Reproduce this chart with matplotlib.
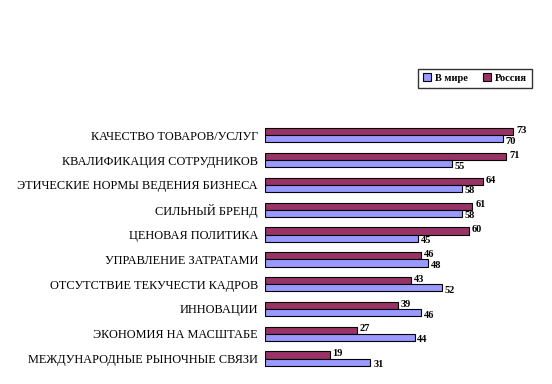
import matplotlib.pyplot as plt
import numpy as np

categories = [
    'КАЧЕСТВО ТОВАРОВ/УСЛУГ',
    'КВАЛИФИКАЦИЯ СОТРУДНИКОВ',
    'ЭТИЧЕСКИЕ НОРМЫ ВЕДЕНИЯ БИЗНЕСА',
    'СИЛЬНЫЙ БРЕНД',
    'ЦЕНОВАЯ ПОЛИТИКА',
    'УПРАВЛЕНИЕ ЗАТРАТАМИ',
    'ОТСУТСТВИЕ ТЕКУЧЕСТИ КАДРОВ',
    'ИННОВАЦИИ',
    'ЭКОНОМИЯ НА МАСШТАБЕ',
    'МЕЖДУНАРОДНЫЕ РЫНОЧНЫЕ СВЯЗИ',
]
russia = [73, 71, 64, 61, 60, 46, 43, 39, 27, 19]
world = [70, 55, 58, 58, 45, 48, 52, 46, 44, 31]

plt.rcParams['font.family'] = ['Liberation Serif', 'DejaVu Serif']

fig = plt.figure(figsize=(5.52, 3.84), dpi=100)
ax = fig.add_axes([0.48, 0.034, 0.493, 0.646])

y = np.arange(len(categories))
h = 0.29
b_ru = ax.barh(y - h / 2, russia, height=h, color='#993366', edgecolor='black', linewidth=0.8, label='Россия')
b_w = ax.barh(y + h / 2, world, height=h, color='#9999FF', edgecolor='black', linewidth=0.8, label='В мире')

for yy, v in zip(y - h / 2, russia):
    ax.text(v + 0.8, yy - 0.05, str(v), va='center', ha='left', fontsize=7.5, fontweight='bold')
for yy, v in zip(y + h / 2, world):
    ax.text(v + 0.8, yy + 0.1, str(v), va='center', ha='left', fontsize=7.5, fontweight='bold')

ax.set_xlim(0, 80)
ax.set_ylim(9.5, -0.5)
ax.set_yticks(y)
ax.set_yticklabels(categories, fontsize=8.8)
ax.set_xticks([])
ax.tick_params(axis='y', length=0, pad=5)
for s in ax.spines.values():
    s.set_visible(False)

leg = fig.legend(handles=[b_w, b_ru], labels=['В мире', 'Россия'], ncol=2,
                 loc='upper right', bbox_to_anchor=(0.973, 0.835),
                 prop={'size': 7.5, 'weight': 'bold'}, fancybox=False,
                 edgecolor='black', handlelength=0.8, handleheight=0.8,
                 handletextpad=0.4, columnspacing=1.4, borderpad=0.45)
leg.get_frame().set_linewidth(1.0)

fig.savefig('out.png', dpi=100)
